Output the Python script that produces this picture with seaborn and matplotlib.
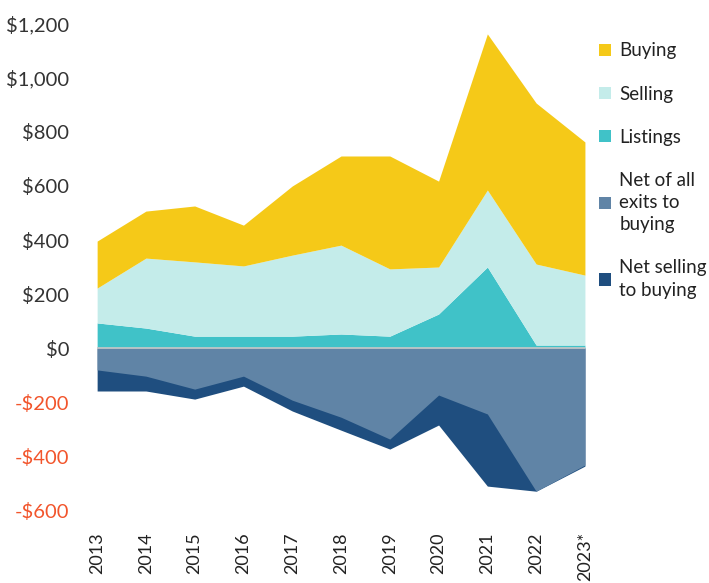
import numpy as np
import pandas as pd
import matplotlib
matplotlib.use("Agg")
import matplotlib.pyplot as plt
import seaborn as sns
from matplotlib.patches import Patch

# === data ===
years = ["2013", "2014", "2015", "2016", "2017", "2018", "2019", "2020", "2021", "2022", "2023*"]
listings = [93, 74, 44, 44, 44, 52, 44, 126, 300, 11, 11]
selling = [129, 259, 275, 260, 300, 329, 249, 174, 285, 300, 259]
buying = [174, 174, 207, 151, 256, 330, 418, 318, 578, 596, 493]
net_all_exits = [-81, -104, -152, -104, -193, -256, -337, -174, -244, -530, -433]
net_selling = [-159, -159, -189, -141, -233, -304, -374, -285, -511, -530, -437]

colors = {
    "Buying": "#F5C918",
    "Selling": "#C4ECEA",
    "Listings": "#40C2C8",
    "Net of all\nexits to\nbuying": "#6084A6",
    "Net selling\nto buying": "#1F4E7F",
}

sns.set_style("white")
plt.rcParams["font.family"] = ["Lato", "DejaVu Sans"]

df = pd.DataFrame({"year": years, "Listings": listings, "Selling": selling, "Buying": buying,
                   "net_all": net_all_exits, "net_sell": net_selling})
x = np.arange(len(df))

fig = plt.figure(figsize=(7.09, 5.83), dpi=100)
ax = fig.add_axes([0.137, 0.125, 0.688, 0.834])

# positive: stacked areas
ax.stackplot(x, df["Listings"], df["Selling"], df["Buying"],
             colors=[colors["Listings"], colors["Selling"], colors["Buying"]], linewidth=0)

# negative: overlapping areas
ax.fill_between(x, 0, df["net_sell"], color=colors["Net selling\nto buying"], linewidth=0)
ax.fill_between(x, 0, df["net_all"], color=colors["Net of all\nexits to\nbuying"], linewidth=0)
ax.axhline(0, color="#c8c8c8", linewidth=1.2)

ax.set_xlim(0, len(df) - 1)
ax.set_ylim(-600, 1200)
ax.set_xticks(x)
ax.set_xticklabels(df["year"], rotation=90, fontsize=13, color="#222222")
yt = np.arange(-600, 1201, 200)
ax.set_yticks(yt)
ylabels = [f"${v:,}" if v >= 0 else f"-${abs(v):,}" for v in yt]
ax.set_yticklabels(ylabels, fontsize=14.5)
for lbl, v in zip(ax.get_yticklabels(), yt):
    lbl.set_color("#F2552C" if v < 0 else "#333333")
ax.tick_params(axis="y", length=0, pad=20)
ax.tick_params(axis="x", length=0, pad=16)
sns.despine(ax=ax, left=True, bottom=True)

handles = [Patch(facecolor=c, edgecolor="none", label=k) for k, c in colors.items()]
leg = fig.legend(handles=handles, loc="upper left", bbox_to_anchor=(0.834, 0.94), frameon=False,
                 fontsize=13.5, handlelength=0.65, handleheight=0.65, handletextpad=0.45,
                 labelspacing=1.39, borderaxespad=0)
for t in leg.get_texts():
    t.set_linespacing(1.38)
    t.set_color("#222222")

fig.savefig("out.png", dpi=100)
